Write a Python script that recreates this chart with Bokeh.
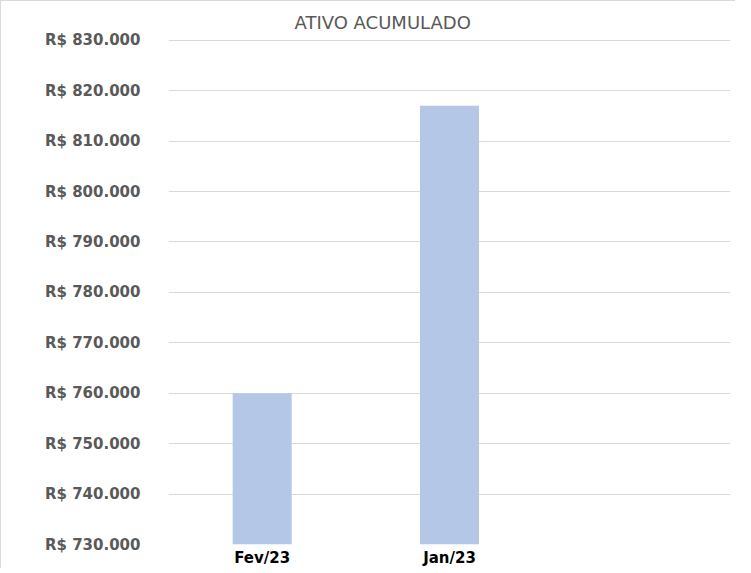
from bokeh.plotting import figure
from bokeh.models import FixedTicker, Title
from bokeh.embed import file_html
from bokeh.resources import INLINE

categories = ["Fev/23", "Jan/23", " "]
values = [760000, 817000]
y_ticks = list(range(730000, 830001, 10000))
y_labels = {t: "R$ " + f"{t:,}".replace(",", ".") for t in y_ticks}

p = figure(x_range=categories, y_range=(730000, 830150),
           width=735, height=568, output_backend="svg", toolbar_location=None,
           min_border_left=167, min_border_right=6, min_border_top=38, min_border_bottom=10)
p.styles = {"border-left": "1px solid #d9d9d9", "border-top": "1px solid #d9d9d9"}

p.vbar(x=categories[:2], top=values, bottom=730000, width=0.315, color="#b4c7e7", line_color=None)

t = Title(text="ATIVO ACUMULADO", align="left", offset=126, text_font="DejaVu Sans",
          text_font_size="18px", text_font_style="normal", text_color="#595959", standoff=14)
p.add_layout(t, "above")

p.outline_line_color = None
p.xgrid.grid_line_color = None
p.ygrid.grid_line_color = "#d9d9d9"
p.ygrid.grid_line_width = 1

p.yaxis.ticker = FixedTicker(ticks=y_ticks)
p.yaxis.major_label_overrides = y_labels
p.yaxis.axis_line_color = None
p.yaxis.major_tick_line_color = None
p.yaxis.minor_tick_line_color = None
p.yaxis.major_tick_out = 0
p.yaxis.major_tick_in = 0
p.yaxis.major_label_standoff = 28
p.yaxis.major_label_text_font = "DejaVu Sans"
p.yaxis.major_label_text_font_style = "bold"
p.yaxis.major_label_text_font_size = "15px"
p.yaxis.major_label_text_color = "#595959"

p.xaxis.axis_line_color = None
p.xaxis.major_tick_line_color = None
p.xaxis.minor_tick_line_color = None
p.xaxis.major_tick_out = 0
p.xaxis.major_tick_in = 0
p.xaxis.major_label_standoff = 4
p.xaxis.major_label_text_font = "DejaVu Sans"
p.xaxis.major_label_text_font_style = "bold"
p.xaxis.major_label_text_font_size = "15px"
p.xaxis.major_label_text_color = "#000000"

open("out.html", "w").write(file_html(p, INLINE))
